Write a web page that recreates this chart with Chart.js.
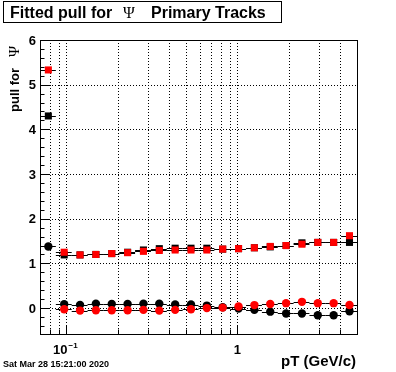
<!DOCTYPE html>
<html>
<head>
<meta charset="utf-8">
<script src="https://cdn.jsdelivr.net/npm/chart.js@4/dist/chart.umd.min.js"></script>
<style>
  body { margin: 0; background: #fff; }
  #wrap { width: 396px; height: 372px; }
</style>
</head>
<body>
<div id="wrap"><canvas id="pull__graph" width="396" height="372"></canvas></div>
<script>
// pT bin edges (20 log bins)
const ptEdges = [0.07, 0.08665, 0.10727, 0.13279, 0.16439, 0.2035, 0.25192, 0.31185, 0.38605, 0.4779,
                 0.5916, 0.73235, 0.90659, 1.12229, 1.38931, 1.71985, 2.12904, 2.63558, 3.26266, 4.03893, 5.0];

// fitted sigma (squares) and mean (circles)
const sigmaBlack = [4.30, 1.19, 1.19, 1.20, 1.22, 1.25, 1.30, 1.33, 1.34, 1.34, 1.34, 1.32, 1.33, 1.35, 1.37, 1.40, 1.46, 1.47, 1.47, 1.47];
const sigmaRed   = [5.33, 1.25, 1.19, 1.20, 1.22, 1.24, 1.27, 1.29, 1.30, 1.30, 1.30, 1.32, 1.33, 1.35, 1.38, 1.40, 1.43, 1.47, 1.47, 1.62];
const meanBlack  = [1.38, 0.087, 0.072, 0.10, 0.094, 0.094, 0.10, 0.10, 0.08, 0.08, 0.056, 0.02, -0.01, -0.04, -0.08, -0.12, -0.12, -0.16, -0.16, -0.07];
const meanRed    = [null, -0.025, -0.056, -0.047, -0.047, -0.047, -0.04, -0.056, -0.04, -0.025, 0.0, 0.01, 0.034, 0.067, 0.09, 0.11, 0.14, 0.11, 0.11, 0.07];

const xMajor = [0.1, 1];
const xLabels = ['10', '1'];
const xMinor = [0.08, 0.09, 0.2, 0.3, 0.4, 0.5, 0.6, 0.7, 0.8, 0.9, 2, 3, 4];
const yLabels = [0, 1, 2, 3, 4, 5, 6];

const titleText = ['Fitted pull for', '\u03A8', 'Primary Tracks'];
const dateText = 'Sat Mar 28 15:21:00 2020';

document.addEventListener('DOMContentLoaded', function(){

    const graph = document.querySelector('#pull__graph');

    function toPoints(vals) {
        let pts = [];
        vals.forEach(function(v, i){
            if (v === null) return;
            pts.push({ x: (ptEdges[i] + ptEdges[i + 1]) / 2, y: v, bin: i });
        });
        return pts;
    }

    const SANS = '"Liberation Sans", Arial, Helvetica, sans-serif';

    // grid + x error bars, drawn under the markers
    const underPlugin = {
        id: 'under',
        beforeDatasetsDraw(chart) {
            const ctx = chart.ctx;
            const a = chart.chartArea;
            const xs = chart.scales.x, ys = chart.scales.y;
            ctx.save();
            ctx.strokeStyle = '#000';
            ctx.lineWidth = 1;
            ctx.setLineDash([1, 2]);
            xMajor.concat(xMinor).forEach(function(v){
                const px = Math.round(xs.getPixelForValue(v)) + 0.5;
                ctx.beginPath(); ctx.moveTo(px, a.top); ctx.lineTo(px, a.bottom); ctx.stroke();
            });
            yLabels.forEach(function(v){
                const py = Math.round(ys.getPixelForValue(v)) + 0.5;
                ctx.beginPath(); ctx.moveTo(a.left, py); ctx.lineTo(a.right, py); ctx.stroke();
            });
            ctx.setLineDash([]);

            ctx.beginPath();
            ctx.rect(a.left, a.top, a.right - a.left, a.bottom - a.top);
            ctx.clip();
            chart.data.datasets.forEach(function(ds){
                ds.data.forEach(function(p){
                    const x0 = xs.getPixelForValue(ptEdges[p.bin]);
                    const x1 = xs.getPixelForValue(ptEdges[p.bin + 1]);
                    const py = Math.round(ys.getPixelForValue(p.y)) + 0.5;
                    ctx.beginPath(); ctx.moveTo(x0, py); ctx.lineTo(x1, py); ctx.stroke();
                });
            });
            ctx.restore();
        }
    };

    // frame, ticks, labels, titles
    const overPlugin = {
        id: 'over',
        afterDraw(chart) {
            const ctx = chart.ctx;
            const a = chart.chartArea;
            const xs = chart.scales.x, ys = chart.scales.y;
            ctx.save();
            ctx.strokeStyle = '#000';
            ctx.fillStyle = '#000';
            ctx.lineWidth = 1;
            ctx.strokeRect(Math.round(a.left) + 0.5, Math.round(a.top) + 0.5,
                           Math.round(a.right - a.left), Math.round(a.bottom - a.top));

            // y ticks
            for (let k = -2; k <= 30; k++) {
                const v = k / 5;
                if (v < ys.min || v > ys.max) continue;
                const py = Math.round(ys.getPixelForValue(v)) + 0.5;
                const len = (k % 5 === 0) ? 9 : 4.5;
                ctx.beginPath(); ctx.moveTo(a.left, py); ctx.lineTo(a.left + len, py); ctx.stroke();
            }
            // x ticks
            xMajor.forEach(function(v){
                const px = Math.round(xs.getPixelForValue(v)) + 0.5;
                ctx.beginPath(); ctx.moveTo(px, a.bottom); ctx.lineTo(px, a.bottom - 9); ctx.stroke();
            });
            xMinor.forEach(function(v){
                const px = Math.round(xs.getPixelForValue(v)) + 0.5;
                ctx.beginPath(); ctx.moveTo(px, a.bottom); ctx.lineTo(px, a.bottom - 4.5); ctx.stroke();
            });

            // y tick labels
            ctx.font = 'bold 13px ' + SANS;
            ctx.textAlign = 'right';
            ctx.textBaseline = 'middle';
            yLabels.forEach(function(v){
                ctx.fillText(String(v), a.left - 4, ys.getPixelForValue(v) + 1);
            });

            // x tick labels
            ctx.textBaseline = 'alphabetic';
            const p1 = xs.getPixelForValue(xMajor[0]);
            ctx.font = 'bold 13px ' + SANS;
            ctx.textAlign = 'right';
            ctx.fillText(xLabels[0], p1 + 1, 354);
            ctx.font = 'bold 8px ' + SANS;
            ctx.textAlign = 'left';
            ctx.fillText('\u22121', p1 + 2, 348);
            ctx.font = 'bold 13px ' + SANS;
            ctx.textAlign = 'center';
            ctx.fillText(xLabels[1], xs.getPixelForValue(xMajor[1]), 354);

            // x title
            ctx.font = 'bold 15px ' + SANS;
            ctx.textAlign = 'right';
            ctx.fillText('pT (GeV/c)', a.right - 1, 366);

            // y title, rotated
            ctx.save();
            ctx.translate(19, 112);
            ctx.rotate(-Math.PI / 2);
            ctx.textAlign = 'left';
            ctx.font = 'bold 13px ' + SANS;
            ctx.fillText('pull for', 0, 0);
            ctx.font = '15px "Liberation Serif", serif';
            ctx.fillText(titleText[1], 55, 0);
            ctx.restore();

            // title box
            ctx.fillStyle = '#fff';
            ctx.fillRect(3, 1, 279, 21);
            ctx.strokeRect(3.5, 1.5, 278, 21);
            ctx.fillStyle = '#000';
            ctx.textAlign = 'left';
            ctx.font = 'bold 16px ' + SANS;
            ctx.fillText(titleText[0], 10, 18);
            ctx.font = '16px "Liberation Serif", serif';
            ctx.fillText(titleText[1], 123, 18);
            ctx.font = 'bold 16px ' + SANS;
            ctx.fillText(titleText[2], 151, 18);

            // date stamp
            ctx.font = 'bold 9px ' + SANS;
            ctx.fillText(dateText, 3, 367);
            ctx.restore();
        }
    };

    const data = {
        datasets: [
            { label: 'mean red',  data: toPoints(meanRed),  pointStyle: 'circle', pointRadius: 4.2, backgroundColor: '#ff0000', borderWidth: 0, showLine: false, order: 0 },
            { label: 'sigma red', data: toPoints(sigmaRed), pointStyle: 'rect', pointRadius: 5, backgroundColor: '#ff0000', borderWidth: 0, showLine: false, order: 1 },
            { label: 'mean black',  data: toPoints(meanBlack),  pointStyle: 'circle', pointRadius: 4.2, backgroundColor: '#000000', borderWidth: 0, showLine: false, order: 2 },
            { label: 'sigma black', data: toPoints(sigmaBlack), pointStyle: 'rect', pointRadius: 5, backgroundColor: '#000000', borderWidth: 0, showLine: false, order: 3 }
        ]
    };

    new Chart(graph, {
        type: 'scatter',
        data: data,
        options: {
            responsive: false,
            animation: false,
            layout: { padding: { left: 40, top: 40, right: 39, bottom: 38 } },
            plugins: {
                legend: { display: false },
                tooltip: { enabled: false }
            },
            scales: {
                x: { type: 'logarithmic', min: 0.07, max: 5, display: false },
                y: { type: 'linear', min: -0.58, max: 6, display: false }
            }
        },
        plugins: [underPlugin, overPlugin]
    });
});
</script>
</body>
</html>
